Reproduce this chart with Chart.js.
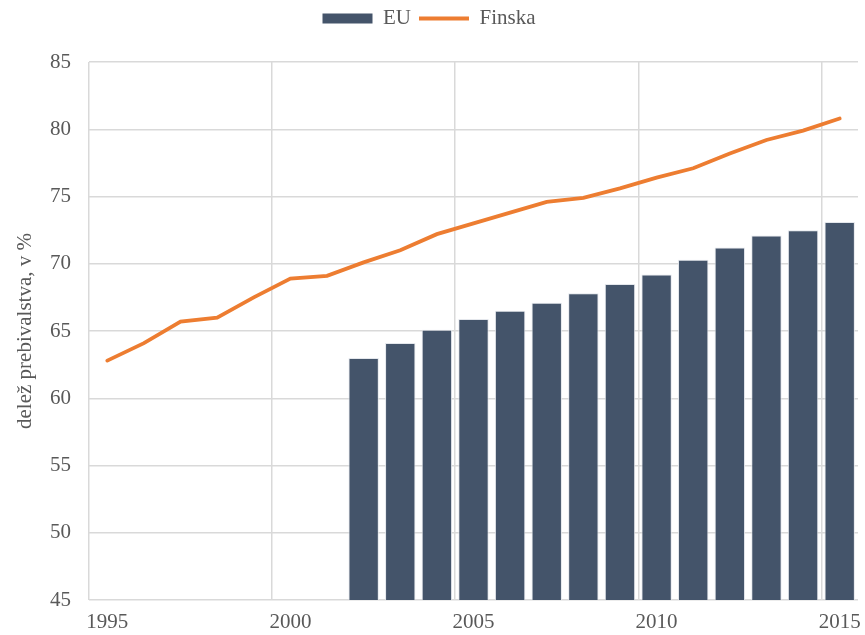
<!DOCTYPE html>
<html>
<head>
<meta charset="utf-8">
<script src="https://cdn.jsdelivr.net/npm/chart.js@4.4.1/dist/chart.umd.min.js"></script>
<style>
  html, body { margin: 0; padding: 0; background: #fff; }
  #wrap { width: 865px; height: 635px; }
</style>
</head>
<body>
<div id="wrap"><canvas id="c" width="865" height="635"></canvas></div>
<script>
// years on the x axis
const years = [1995, 1996, 1997, 1998, 1999, 2000, 2001, 2002, 2003, 2004, 2005,
               2006, 2007, 2008, 2009, 2010, 2011, 2012, 2013, 2014, 2015];
// EU (bars) — no data before 2002
const euValues = [null, null, null, null, null, null, null, 63.0, 64.1, 65.1, 65.9,
                  66.5, 67.1, 67.8, 68.5, 69.2, 70.3, 71.2, 72.1, 72.5, 73.1];
// Finland (line)
const finValues = [62.8, 64.1, 65.7, 66.0, 67.5, 68.9, 69.1, 70.1, 71.0, 72.2, 73.0,
                   73.8, 74.6, 74.9, 75.6, 76.4, 77.1, 78.2, 79.2, 79.9, 80.8];
const yTicks = [45, 50, 55, 60, 65, 70, 75, 80, 85];

const BAR = "#44546a", LINE = "#ed7d31", GRID = "#d9d9d9", TXT = "#595959";
const FONT = "'Liberation Serif', 'Times New Roman', serif";

// force legend height so the plot starts at the right place
const legendHeight = {
  id: "legendHeight",
  beforeInit(chart) {
    const fit = chart.legend.fit;
    chart.legend.fit = function () { fit.bind(chart.legend)(); this.height = 62; };
  }
};

new Chart(document.getElementById("c"), {
  data: {
    labels: years,
    datasets: [
      { type: "line", label: "Finska", data: finValues, borderColor: LINE, backgroundColor: LINE,
        borderWidth: 3.8, pointRadius: 0, tension: 0, borderCapStyle: "round", order: 0 },
      { type: "bar", label: "EU", data: euValues, backgroundColor: BAR,
        borderColor: "rgba(225,228,234,0.9)", borderWidth: 1,
        barPercentage: 0.83, categoryPercentage: 1, order: 1 },
    ],
  },
  options: {
    responsive: false, animation: false,
    layout: { padding: { left: 0, right: 7, top: 0, bottom: 0 } },
    plugins: {
      tooltip: { enabled: false },
      legend: {
        position: "top",
        labels: {
          color: TXT, font: { family: FONT, size: 21 }, padding: 8,
          usePointStyle: true, pointStyleWidth: 50, boxHeight: 10,
          generateLabels: () => [
            { text: "EU", pointStyle: "rect", fillStyle: BAR, strokeStyle: BAR, lineWidth: 0, datasetIndex: 1, fontColor: TXT },
            { text: "Finska", pointStyle: "line", fillStyle: LINE, strokeStyle: LINE, lineWidth: 4, datasetIndex: 0, fontColor: TXT },
          ],
        },
      },
    },
    scales: {
      x: {
        type: "category", offset: true,
        grid: { offset: true, drawTicks: false, lineWidth: 1.5,
                color: (ctx) => (ctx.index % 5 === 0 && ctx.index < years.length ? GRID : "rgba(0,0,0,0)") },
        border: { display: false },
        ticks: { autoSkip: false, maxRotation: 0, padding: 10, color: TXT, font: { family: FONT, size: 21 },
                 callback: (v, i) => (years[i] % 5 === 0 ? String(years[i]) : "") },
        afterFit: (s) => { s.height = 35; s.paddingLeft = 0; s.paddingRight = 0; },
      },
      y: {
        min: 45, max: 85,
        afterBuildTicks: (s) => { s.ticks = yTicks.map((v) => ({ value: v })); },
        grid: { color: GRID, lineWidth: 1.5, drawTicks: false },
        border: { display: false },
        ticks: { padding: 18, color: TXT, font: { family: FONT, size: 21 } },
        title: { display: true, text: "delež prebivalstva, v %", color: TXT, font: { family: FONT, size: 21 },
                 padding: { top: 13, bottom: 0 } },
        afterFit: (s) => { s.width = 89; },
      },
    },
  },
  plugins: [legendHeight],
});
</script>
</body>
</html>
